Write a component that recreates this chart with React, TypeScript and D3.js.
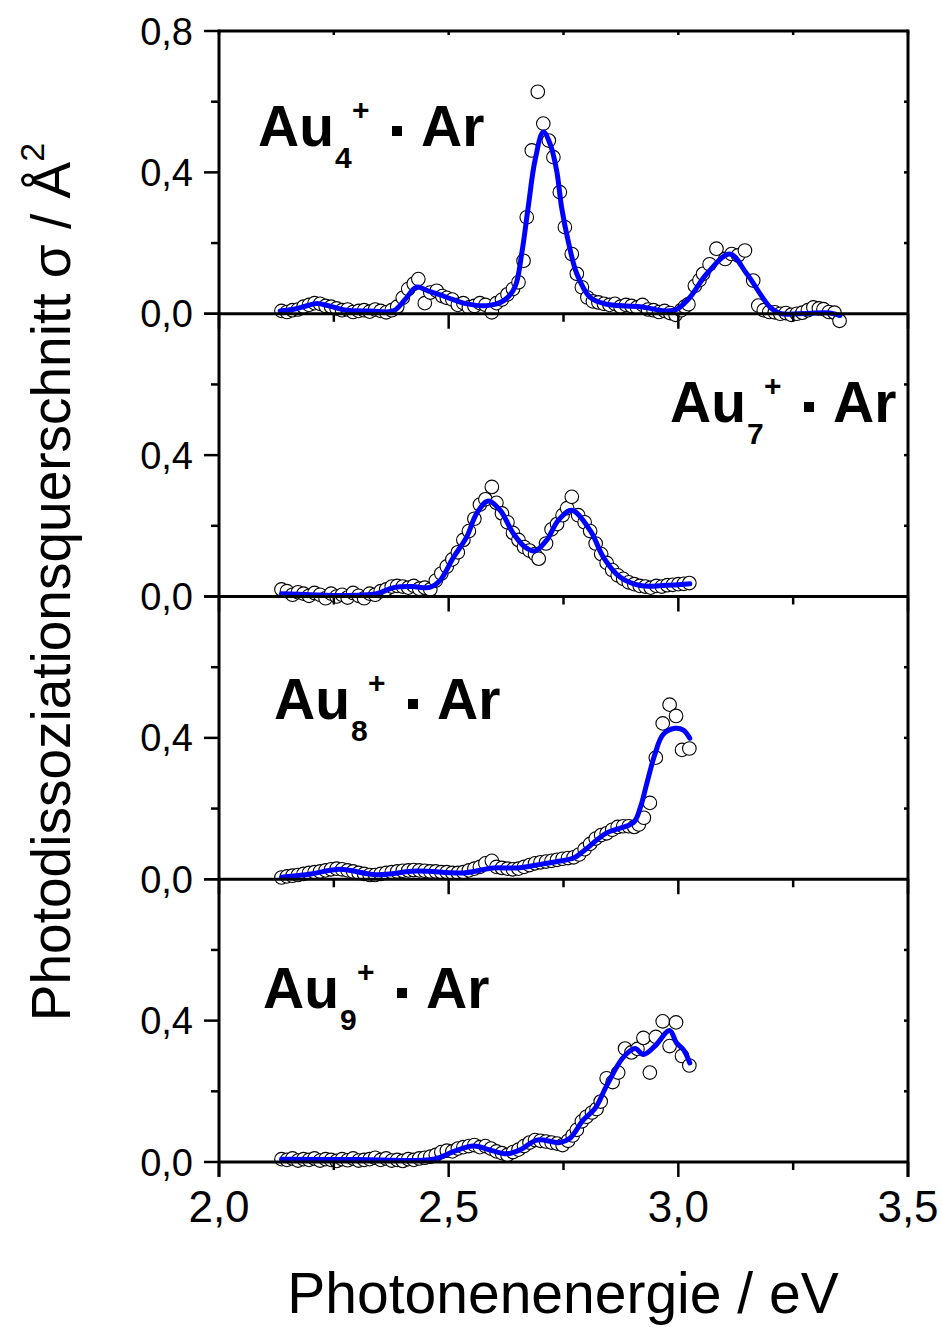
import React from "react";
import * as d3 from "d3";

const W = 942;
const H = 1327;
const FONT = "'Liberation Sans', Arial, sans-serif";

const xMajorTicks = [2.0, 2.5, 3.0, 3.5];
const xTickLabels = ["2,0", "2,5", "3,0", "3,5"];
const xMinorTicks = [2.25, 2.75, 3.25];
const yMajorTicks = [0, 0.4, 0.8];
const yMinorTicks = [0.2, 0.6];
const yTickLabelsTop = ["0,0", "0,4", "0,8"];
const yTickLabelsOther = ["0,0", "0,4"];
const clusterSizes = ["4", "7", "8", "9"];

// ---------- Au4+ · Ar ----------
const data4: [number, number][] = [
  [2.136,0.008],[2.148,0.005],[2.160,0.010],[2.172,0.012],[2.184,0.020],[2.196,0.025],[2.208,0.030],[2.220,0.028],
  [2.232,0.022],[2.244,0.020],[2.256,0.015],[2.268,0.010],[2.280,0.012],[2.292,0.005],[2.304,0.008],[2.316,0.010],
  [2.328,0.006],[2.340,0.012],[2.352,0.008],[2.364,0.004],[2.376,0.010],[2.388,0.020],[2.400,0.045],[2.412,0.070],
  [2.424,0.085],[2.434,0.098],[2.448,0.030],[2.460,0.060],[2.474,0.065],[2.486,0.050],[2.496,0.045],[2.508,0.040],
  [2.520,0.025],[2.532,0.030],[2.544,0.018],[2.556,0.022],[2.568,0.030],[2.580,0.025],[2.594,0.004],[2.604,0.030],
  [2.616,0.040],[2.628,0.055],[2.640,0.070],[2.652,0.089],[2.663,0.150],[2.670,0.273],[2.681,0.462],[2.694,0.628],
  [2.706,0.538],[2.718,0.490],[2.728,0.443],[2.742,0.344],[2.753,0.245],[2.768,0.169],[2.779,0.113],[2.790,0.075],
  [2.802,0.046],[2.814,0.035],[2.826,0.032],[2.838,0.028],[2.850,0.025],[2.862,0.028],[2.874,0.020],[2.886,0.025],
  [2.898,0.022],[2.910,0.018],[2.922,0.025],[2.934,0.012],[2.946,0.010],[2.958,0.005],[2.970,0.008],[2.982,0.002],
  [2.994,-0.003],[3.006,0.010],[3.014,0.020],[3.022,0.027],[3.036,0.079],[3.046,0.095],[3.054,0.113],[3.068,0.140],
  [3.083,0.184],[3.102,0.155],[3.116,0.169],[3.130,0.165],[3.145,0.179],[3.163,0.094],[3.174,0.023],[3.186,0.010],
  [3.198,0.005],[3.210,0.004],[3.222,0.000],[3.234,0.002],[3.246,-0.003],[3.258,0.000],[3.270,0.003],[3.282,0.010],
  [3.294,0.018],[3.306,0.015],[3.316,0.013],[3.328,0.005],[3.340,0.003],[3.351,-0.020]
];
const fit4: [number, number][] = [
  [2.133,0.008],[2.16,0.012],[2.19,0.022],[2.213,0.029],[2.24,0.022],[2.278,0.010],[2.33,0.008],[2.38,0.008],
  [2.405,0.040],[2.43,0.075],[2.455,0.065],[2.48,0.054],[2.51,0.040],[2.54,0.028],[2.583,0.023],[2.62,0.037],
  [2.644,0.075],[2.659,0.170],[2.673,0.300],[2.688,0.434],[2.706,0.514],[2.721,0.480],[2.735,0.406],[2.746,0.300],
  [2.760,0.207],[2.779,0.113],[2.808,0.046],[2.844,0.027],[2.917,0.020],[2.975,0.008],[2.997,0.013],[3.025,0.046],
  [3.062,0.113],[3.112,0.169],[3.149,0.113],[3.200,0.018],[3.221,0.001],[3.280,0.001],[3.330,0.002],[3.352,-0.005]
];

// ---------- Au7+ · Ar ----------
const data7: [number, number][] = [
  [2.136,0.020],[2.148,0.015],[2.160,0.005],[2.172,0.012],[2.184,0.008],[2.196,0.002],[2.208,0.010],[2.220,0.005],
  [2.232,-0.005],[2.244,0.008],[2.256,0.000],[2.268,0.005],[2.280,-0.003],[2.292,0.010],[2.304,0.002],[2.316,-0.005],
  [2.328,0.008],[2.340,0.005],[2.352,0.015],[2.364,0.020],[2.376,0.028],[2.388,0.030],[2.400,0.028],[2.412,0.025],
  [2.424,0.030],[2.436,0.022],[2.448,0.025],[2.460,0.020],[2.472,0.045],[2.484,0.065],[2.496,0.085],[2.508,0.105],
  [2.520,0.125],[2.532,0.160],[2.544,0.185],[2.556,0.220],[2.568,0.260],[2.580,0.275],[2.594,0.310],[2.604,0.265],
  [2.616,0.235],[2.628,0.210],[2.640,0.180],[2.652,0.160],[2.664,0.140],[2.676,0.130],[2.688,0.120],[2.696,0.107],
  [2.712,0.150],[2.724,0.190],[2.736,0.205],[2.748,0.230],[2.758,0.250],[2.768,0.282],[2.782,0.230],[2.796,0.210],
  [2.808,0.185],[2.820,0.150],[2.832,0.120],[2.844,0.095],[2.856,0.075],[2.868,0.060],[2.880,0.050],[2.892,0.040],
  [2.904,0.035],[2.916,0.030],[2.928,0.028],[2.940,0.025],[2.952,0.030],[2.964,0.028],[2.976,0.032],[2.988,0.033],
  [3.000,0.035],[3.012,0.036],[3.024,0.038]
];
const fit7: [number, number][] = [
  [2.136,0.008],[2.200,0.005],[2.249,0.003],[2.343,0.008],[2.380,0.025],[2.420,0.028],[2.459,0.026],[2.481,0.045],
  [2.510,0.110],[2.539,0.168],[2.561,0.235],[2.586,0.270],[2.612,0.244],[2.641,0.178],[2.666,0.140],[2.688,0.129],
  [2.713,0.159],[2.739,0.216],[2.768,0.244],[2.808,0.187],[2.837,0.111],[2.873,0.055],[2.917,0.031],[2.967,0.031],
  [3.025,0.036]
];

// ---------- Au8+ · Ar ----------
const data8: [number, number][] = [
  [2.136,0.005],[2.148,0.008],[2.160,0.010],[2.172,0.012],[2.184,0.015],[2.196,0.018],[2.208,0.020],[2.220,0.022],
  [2.232,0.025],[2.244,0.028],[2.256,0.030],[2.268,0.028],[2.280,0.025],[2.292,0.022],[2.304,0.018],[2.316,0.015],
  [2.328,0.012],[2.340,0.012],[2.352,0.015],[2.364,0.018],[2.376,0.020],[2.388,0.022],[2.400,0.024],[2.412,0.025],
  [2.424,0.026],[2.436,0.025],[2.448,0.024],[2.460,0.022],[2.472,0.022],[2.484,0.020],[2.496,0.020],[2.508,0.018],
  [2.520,0.018],[2.532,0.020],[2.544,0.025],[2.556,0.030],[2.568,0.035],[2.580,0.045],[2.594,0.052],[2.604,0.035],
  [2.616,0.032],[2.628,0.030],[2.640,0.028],[2.652,0.030],[2.664,0.035],[2.676,0.040],[2.688,0.045],[2.700,0.048],
  [2.712,0.050],[2.724,0.052],[2.736,0.055],[2.748,0.058],[2.760,0.060],[2.772,0.062],[2.784,0.070],[2.796,0.085],
  [2.808,0.100],[2.820,0.115],[2.832,0.125],[2.844,0.130],[2.856,0.140],[2.868,0.148],[2.880,0.150],[2.892,0.150],
  [2.904,0.148],[2.914,0.155],[2.925,0.174],[2.938,0.216],[2.951,0.344],[2.966,0.441],[2.981,0.494],[2.995,0.462],
  [3.008,0.366],[3.024,0.370]
];
const fit8: [number, number][] = [
  [2.136,0.006],[2.200,0.015],[2.263,0.028],[2.343,0.013],[2.430,0.023],[2.532,0.018],[2.597,0.032],[2.648,0.032],
  [2.699,0.042],[2.739,0.051],[2.772,0.060],[2.793,0.079],[2.844,0.131],[2.902,0.160],[2.917,0.202],[2.931,0.269],
  [2.949,0.354],[2.967,0.410],[2.993,0.427],[3.011,0.422],[3.025,0.399]
];

// ---------- Au9+ · Ar ----------
const data9: [number, number][] = [
  [2.136,0.008],[2.148,0.006],[2.160,0.010],[2.172,0.004],[2.184,0.008],[2.196,0.006],[2.208,0.010],[2.220,0.004],
  [2.232,0.008],[2.244,0.006],[2.256,0.003],[2.268,0.008],[2.280,0.005],[2.292,0.010],[2.304,0.004],[2.316,0.006],
  [2.328,0.008],[2.340,0.012],[2.352,0.006],[2.364,0.010],[2.376,0.004],[2.388,0.006],[2.400,0.003],[2.412,0.008],
  [2.424,0.006],[2.436,0.010],[2.448,0.012],[2.460,0.015],[2.472,0.020],[2.484,0.028],[2.496,0.032],[2.508,0.030],
  [2.520,0.038],[2.532,0.042],[2.544,0.045],[2.556,0.048],[2.568,0.042],[2.580,0.045],[2.592,0.038],[2.604,0.030],
  [2.616,0.025],[2.628,0.020],[2.640,0.028],[2.652,0.035],[2.664,0.045],[2.676,0.055],[2.688,0.062],[2.700,0.060],
  [2.712,0.058],[2.724,0.055],[2.736,0.052],[2.748,0.048],[2.760,0.060],[2.770,0.075],[2.779,0.091],[2.790,0.115],
  [2.800,0.128],[2.812,0.140],[2.822,0.150],[2.831,0.171],[2.844,0.237],[2.857,0.226],[2.869,0.253],[2.884,0.321],
  [2.898,0.310],[2.911,0.320],[2.924,0.351],[2.938,0.253],[2.951,0.354],[2.966,0.398],[2.981,0.328],[2.995,0.395],
  [3.008,0.300],[3.024,0.273]
];
const fit9: [number, number][] = [
  [2.136,0.008],[2.300,0.007],[2.467,0.008],[2.510,0.029],[2.554,0.045],[2.590,0.034],[2.626,0.023],[2.655,0.034],
  [2.692,0.062],[2.742,0.055],[2.764,0.067],[2.793,0.119],[2.819,0.152],[2.844,0.216],[2.880,0.296],[2.906,0.321],
  [2.924,0.304],[2.949,0.328],[2.981,0.372],[2.996,0.337],[3.011,0.318],[3.025,0.280]
];

const panelData = [data4, data7, data8, data9];
const panelFits = [fit4, fit7, fit8, fit9];
// label origin (left, baseline) per panel
const labelPos: [number, number][] = [[258, 146], [670, 422], [274, 719], [263, 1008]];

const X0 = 219, X1 = 908;
const TOP = 31;
const PANEL_H = 282.75;

const xScale = d3.scaleLinear().domain([2.0, 3.5]).range([X0, X1]);

function ClusterLabel({ x, y, n }: { x: number; y: number; n: string }) {
  return (
    <g fontFamily={FONT} fontWeight="bold" fill="#000">
      <text x={x} y={y} fontSize={57}>Au</text>
      <text x={x + 77} y={y + 22} fontSize={30}>{n}</text>
      <text x={x + 94} y={y - 26} fontSize={30}>+</text>
      <rect x={x + 134} y={y - 20} width={10} height={10} fill="#000" />
      <text x={x + 163} y={y} fontSize={57}>Ar</text>
    </g>
  );
}

export default function App() {
  const panels = panelData.map((pts, i) => {
    const bottom = TOP + (i + 1) * PANEL_H;
    const top = TOP + i * PANEL_H;
    const y = d3.scaleLinear().domain([0, 0.8]).range([bottom, top]);
    const line = d3
      .line<[number, number]>()
      .x((d) => xScale(d[0]))
      .y((d) => y(d[1]))
      .curve(d3.curveCatmullRom.alpha(0.5));
    return { pts, fit: panelFits[i], y, line, bottom, top, i };
  });
  const BOTTOM = TOP + 4 * PANEL_H;

  return (
    <svg
      width={W}
      height={H}
      viewBox={`0 0 ${W} ${H}`}
      style={{ position: "absolute", left: 0, top: 0, background: "#fff" }}
    >
      <rect x={0} y={0} width={W} height={H} fill="#fff" />
      {panels.map((p) => (
        <g key={"d" + p.i}>
          {p.pts.map((d, k) => (
            <circle
              key={k}
              cx={xScale(d[0])}
              cy={p.y(d[1])}
              r={6.8}
              fill="#fff"
              stroke="#000"
              strokeWidth={1.1}
            />
          ))}
          <path d={p.line(p.fit) || ""} fill="none" stroke="#0000ff" strokeWidth={5} strokeLinejoin="round" strokeLinecap="round" />
        </g>
      ))}

      {/* axes */}
      <g stroke="#000" fill="none">
        <line x1={X0} x2={X0} y1={TOP - 1.5} y2={BOTTOM + 15} strokeWidth={3} />
        <line x1={X1} x2={X1} y1={TOP - 1.5} y2={BOTTOM + 15} strokeWidth={3} />
        <line x1={X0} x2={X1} y1={TOP} y2={TOP} strokeWidth={3} />
        {panels.map((p) => (
          <g key={"a" + p.i}>
            <line x1={X0} x2={X1} y1={p.bottom} y2={p.bottom} strokeWidth={3} />
            {xMajorTicks.map((t) => (
              <line key={"xM" + t} x1={xScale(t)} x2={xScale(t)} y1={p.bottom} y2={p.bottom + 15} strokeWidth={2.5} />
            ))}
            {xMinorTicks.map((t) => (
              <line key={"xm" + t} x1={xScale(t)} x2={xScale(t)} y1={p.bottom} y2={p.bottom + 8} strokeWidth={2.5} />
            ))}
            {yMajorTicks.map((t) => (
              <line key={"yM" + t} x1={X0 - 15} x2={X0} y1={p.y(t)} y2={p.y(t)} strokeWidth={2.5} />
            ))}
            {yMinorTicks.map((t) => (
              <line key={"ym" + t} x1={X0 - 8} x2={X0} y1={p.y(t)} y2={p.y(t)} strokeWidth={2.5} />
            ))}
            {[...yMinorTicks, 0.4].map((t) => (
              <line key={"yr" + t} x1={X1 - 4} x2={X1} y1={p.y(t)} y2={p.y(t)} strokeWidth={2.5} />
            ))}
          </g>
        ))}
        {[...xMajorTicks, ...xMinorTicks].map((t) => (
          <line key={"top" + t} x1={xScale(t)} x2={xScale(t)} y1={TOP} y2={TOP + 4} strokeWidth={2.5} />
        ))}
      </g>

      {/* y tick labels */}
      <g fontFamily={FONT} fontSize={38} textAnchor="end" fill="#000">
        {panels.map((p) =>
          (p.i === 0 ? yTickLabelsTop : yTickLabelsOther).map((lab, k) => (
            <text key={p.i + lab} x={193} y={p.y(yMajorTicks[k]) + 13.5}>
              {lab}
            </text>
          ))
        )}
      </g>

      {/* x tick labels */}
      <g fontFamily={FONT} fontSize={44} textAnchor="middle" fill="#000">
        {xMajorTicks.map((t, k) => (
          <text key={t} x={xScale(t)} y={1222}>
            {xTickLabels[k]}
          </text>
        ))}
      </g>

      {/* cluster labels */}
      {labelPos.map((pos, i) => (
        <ClusterLabel key={i} x={pos[0]} y={pos[1]} n={clusterSizes[i]} />
      ))}

      {/* axis titles */}
      <text x={563} y={1313} fontFamily={FONT} fontSize={57} textAnchor="middle" fill="#000">
        Photonenenergie / eV
      </text>
      <text
        transform="translate(70,582) rotate(-90)"
        fontFamily={FONT}
        fontSize={55}
        textAnchor="middle"
        fill="#000"
      >
        Photodissoziationsquerschnitt σ / Å
        <tspan fontSize={34} dy={-26}>2</tspan>
      </text>
    </svg>
  );
}
